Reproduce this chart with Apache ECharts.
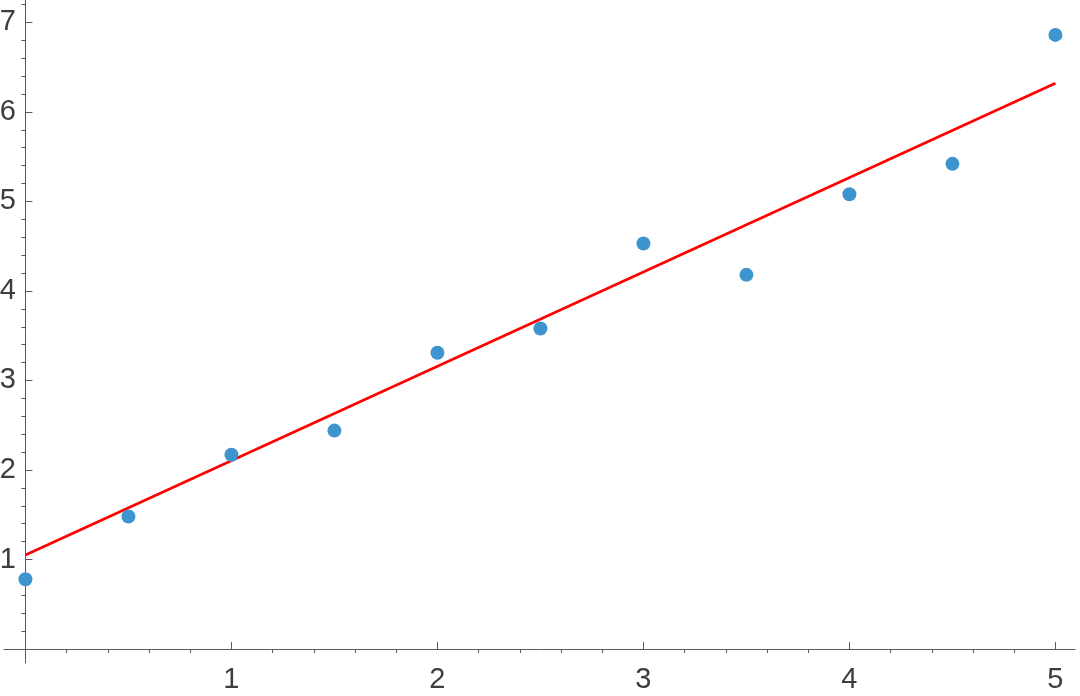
<!DOCTYPE html>
<html>
<head>
<meta charset="utf-8">
<script src="https://cdn.jsdelivr.net/npm/echarts@6/dist/echarts.min.js"></script>
<style>
  html, body { margin: 0; padding: 0; background: #fff; }
  #chart { width: 1080px; height: 696px; }
</style>
</head>
<body>
<div id="chart"></div>
<script>
// data points
var xs = [0, 0.5, 1, 1.5, 2, 2.5, 3, 3.5, 4, 4.5, 5];
var ys = [0.78, 1.48, 2.17, 2.44, 3.31, 3.58, 4.53, 4.18, 5.08, 5.42, 6.86];

// fitted line, its two end points
var fitX = [0, 5];
var fitY = [1.05, 6.32];

// tick labels
var xLabels = [1, 2, 3, 4, 5];
var xMajor = [0, 1, 2, 3, 4, 5];
var yLabels = [1, 2, 3, 4, 5, 6, 7];
var yMajor = [0, 1, 2, 3, 4, 5, 6, 7];

var xMinor = [];
for (var i = 1; i <= 25; i++) { if (i % 5) xMinor.push(+(i * 0.2).toFixed(1)); }
var yMinor = [];
for (var j = 1; j <= 36; j++) { if (j % 5) yMinor.push(+(j * 0.2).toFixed(1)); }

var points = [];
for (var k = 0; k < xs.length; k++) points.push([xs[k], ys[k]]);
var line = [];
for (var m = 0; m < fitX.length; m++) line.push([fitX[m], fitY[m]]);

var axisColor = '#5a5a5a';
var labelStyle = { color: '#3d3d3d', fontSize: 29, fontFamily: 'Liberation Sans' };

var chart = echarts.init(document.getElementById('chart'));
var option = {
    animation: false,
    grid: { left: 4, right: 5, top: 0, bottom: 33, containLabel: false, outerBoundsMode: 'none' },
    xAxis: [
        {
            type: 'value', min: -0.104, max: 5.095,
            splitLine: { show: false },
            axisLine: { onZero: true, lineStyle: { color: axisColor, width: 1 } },
            axisTick: { inside: true, length: 7, customValues: xMajor, lineStyle: { color: axisColor } },
            // labels sit at the grid edge, not on the zero line
            axisLabel: Object.assign({ customValues: xLabels, margin: 2 }, labelStyle)
        },
        {
            type: 'value', min: -0.104, max: 5.095, gridIndex: 0,
            splitLine: { show: false },
            axisLine: { show: false, onZero: true, onZeroAxisIndex: 0 },
            axisTick: { inside: true, length: 4, customValues: xMinor, lineStyle: { color: axisColor } },
            axisLabel: { show: false }
        }
    ],
    yAxis: [
        {
            type: 'value', min: -0.156, max: 7.25,
            splitLine: { show: false },
            axisLine: { onZero: true, lineStyle: { color: axisColor, width: 1 } },
            axisTick: { inside: true, length: 7, customValues: yMajor, lineStyle: { color: axisColor } },
            axisLabel: Object.assign({ customValues: yLabels, margin: -12, hideOverlap: false }, labelStyle)
        },
        {
            type: 'value', min: -0.156, max: 7.25, gridIndex: 0,
            splitLine: { show: false },
            axisLine: { show: false, onZero: true, onZeroAxisIndex: 0 },
            axisTick: { inside: true, length: 4, customValues: yMinor, lineStyle: { color: axisColor } },
            axisLabel: { show: false }
        }
    ],
    series: [
        {
            type: 'line',
            data: line,
            symbol: 'none',
            lineStyle: { color: '#ff0000', width: 2.6 },
            z: 2
        },
        {
            type: 'scatter',
            data: points,
            symbolSize: 14,
            itemStyle: { color: '#3e95cd', opacity: 1 },
            z: 3
        }
    ]
};
chart.setOption(option);
</script>
</body>
</html>
